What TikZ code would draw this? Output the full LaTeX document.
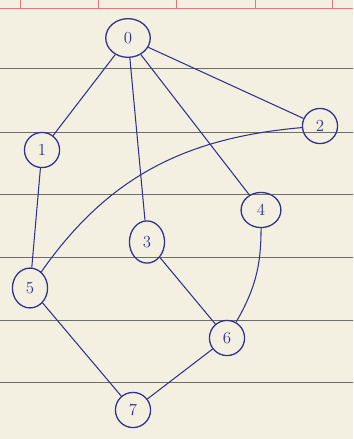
\documentclass[tikz,border=0pt]{standalone}
\usepackage{tikz}
\usetikzlibrary{shapes.geometric,positioning}
\definecolor{ink}{RGB}{52,48,140}
\definecolor{paper}{RGB}{243,240,226}
\definecolor{rule}{RGB}{110,110,105}
\definecolor{margin}{RGB}{220,120,120}

\begin{document}
\begin{tikzpicture}[x=0.03cm, y=-0.03cm,
    vertex/.style={draw=ink, line width=1.1pt, ellipse, inner sep=1pt, minimum width=30, minimum height=30, text=ink, font=\Large},
    edge/.style={draw=ink, line width=0.9pt}]
            % paper
            \fill[paper] (0,0) rectangle (353,439);
            \useasboundingbox (0,0) rectangle (353,439);
            \draw[margin, thick] (0,8) -- (353,8);
            \foreach \x in {20,98,176,255,332} \draw[margin] (\x,0) -- (\x,8);
            \foreach \y in {68,132,194,257,320,382} \draw[rule, thin] (0,\y) -- (353,\y);

            \node[vertex, minimum width=38, minimum height=33] (n0) at (128,38) {0};
            \node[vertex] (n1) at (42,150) {1};
            \node[vertex] (n2) at (320,126) {2};
            \node[vertex, minimum height=36] (n3) at (147,242) {3};
            \node[vertex, minimum width=34] (n4) at (261,210) {4};
            \node[vertex, minimum height=34] (n5) at (30,288) {5};
            \node[vertex] (n6) at (227,338) {6};
            \node[vertex] (n7) at (133,410) {7};

            \draw[edge] (n0) -- (n1);
            \draw[edge] (n0) -- (n2);
            \draw[edge] (n0) -- (n3);
            \draw[edge] (n0) -- (n4);
            \draw[edge] (n1) -- (n5);
            \draw[edge] (n2) to[out=185, in=55] (n5);
            \draw[edge] (n3) -- (n6);
            \draw[edge] (n4) to[bend left=15] (n6);
            \draw[edge] (n5) -- (n7);
            \draw[edge] (n6) -- (n7);
        \end{tikzpicture}
\end{document}
